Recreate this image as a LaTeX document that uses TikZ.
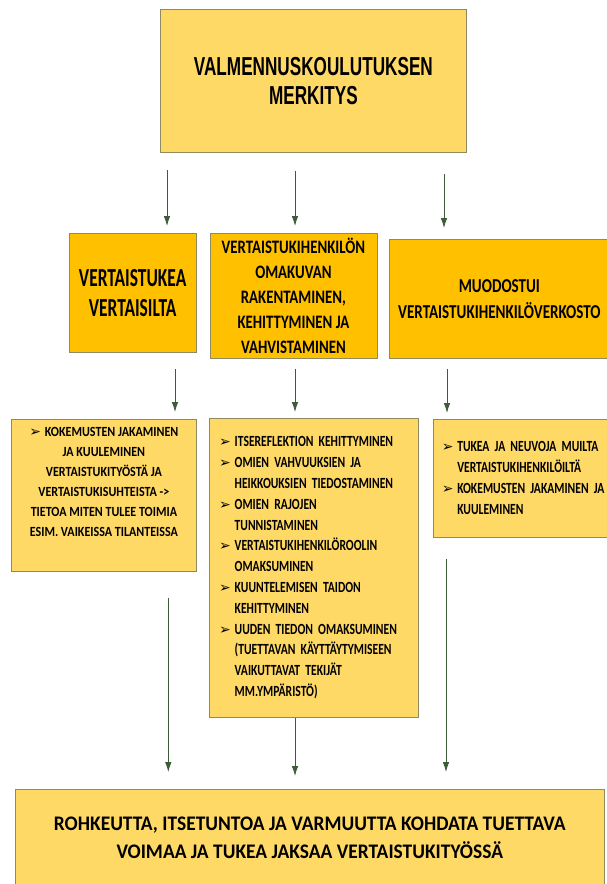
\documentclass[tikz,border=0pt]{standalone}
\usepackage{fontspec}
\setmainfont{Carlito}
\newfontfamily\titlefont{Liberation Sans}[FakeStretch=0.66]
\newfontfamily\symfont{DejaVu Sans}
\usetikzlibrary{arrows.meta}
\definecolor{lightgold}{HTML}{FFD966}
\definecolor{gold}{HTML}{FFC000}
\definecolor{boxline}{HTML}{8E8A62}
\definecolor{arrowgreen}{HTML}{3E5C3A}
% narrowed bold text: stretch, size, line skip
\newcommand{\nfont}[3]{\bfseries\addfontfeatures{FakeStretch=#1}\fontsize{#2}{#3}\selectfont}
\newcommand{\bul}{\makebox[15.5pt][l]{\symfont\fontsize{14}{14}\selectfont ➢}}
\newcommand{\cnt}{\hspace*{15.5pt}}

\begin{document}
\begin{tikzpicture}[x=1pt,y=-1pt,
  tbox/.style={draw=boxline,line width=0.8pt,inner sep=0pt,anchor=north west},
  arr/.style={draw=arrowgreen,line width=0.8pt,-{Latex[length=10pt,width=6.5pt]}}]
  \useasboundingbox (0,0) rectangle (607,884);

  % title
  \node[tbox,fill=lightgold,minimum width=306pt,minimum height=143pt,align=center,
        font=\titlefont\bfseries\fontsize{26}{28.5}\selectfont] (title) at (160,9)
        {VALMENNUSKOULUTUKSEN\\MERKITYS};

  % three themes
  \node[tbox,fill=gold,minimum width=127.5pt,minimum height=119.6pt,align=center,
        font=\nfont{0.67}{26}{30.3}] (tukea) at (68.5,232.7)
        {VERTAISTUKEA\\VERTAISILTA};
  \node[tbox,fill=gold,minimum width=167pt,minimum height=125pt,align=center,
        font=\nfont{0.78}{19}{25}] (omakuva) at (209.5,232.7)
        {VERTAISTUKIHENKILÖN\\OMAKUVAN\\RAKENTAMINEN,\\KEHITTYMINEN JA\\VAHVISTAMINEN};
  \node[tbox,fill=gold,minimum width=220pt,minimum height=119pt,align=center,
        font=\nfont{0.765}{19.7}{25.6}] (verkosto) at (389,239)
        {MUODOSTUI\\VERTAISTUKIHENKILÖVERKOSTO};

  % details
  \node[tbox,fill=lightgold,minimum width=185pt,align=center,inner ysep=7.5pt,
        text height=110pt,text depth=26.7pt,
        font=\nfont{0.86}{14}{20}] (kokemus) at (11,419)
        {\bul KOKEMUSTEN JAKAMINEN\\JA KUULEMINEN\\VERTAISTUKITYÖSTÄ JA\\
         VERTAISTUKISUHTEISTA ->\\TIETOA MITEN TULEE TOIMIA\\ESIM. VAIKEISSA TILANTEISSA};
  \node[tbox,fill=lightgold,minimum width=209pt,minimum height=298.7pt,text width=190pt,
        align=left,font=\nfont{0.75}{15.5}{20.8}] (omaksu) at (209.3,418)
        {\bul ITSEREFLEKTION KEHITTYMINEN\\
         \bul OMIEN VAHVUUKSIEN JA\\
         \cnt HEIKKOUKSIEN TIEDOSTAMINEN\\
         \bul OMIEN RAJOJEN\\
         \cnt TUNNISTAMINEN\\
         \bul VERTAISTUKIHENKILÖROOLIN\\
         \cnt OMAKSUMINEN\\
         \bul KUUNTELEMISEN TAIDON\\
         \cnt KEHITTYMINEN\\
         \bul UUDEN TIEDON OMAKSUMINEN\\
         \cnt (TUETTAVAN KÄYTTÄYTYMISEEN\\
         \cnt VAIKUTTAVAT TEKIJÄT\\
         \cnt MM.YMPÄRISTÖ)};
  \node[tbox,fill=lightgold,minimum width=187.3pt,minimum height=117.7pt,text width=170pt,
        align=left,font=\nfont{0.75}{15.5}{21}] (tuki) at (432.7,419)
        {\bul TUKEA JA NEUVOJA MUILTA\\
         \cnt VERTAISTUKIHENKILÖILTÄ\\
         \bul KOKEMUSTEN JAKAMINEN JA\\
         \cnt KUULEMINEN};

  % outcome
  \node[tbox,fill=lightgold,minimum width=589.3pt,minimum height=97pt,align=center,
        font=\nfont{0.94}{20.7}{28.3}] (rohkeus) at (14.7,789)
        {ROHKEUTTA, ITSETUNTOA JA VARMUUTTA KOHDATA TUETTAVA\\VOIMAA JA TUKEA JAKSAA VERTAISTUKITYÖSSÄ};

  % arrow columns
  \coordinate (c1) at (167,0);
  \coordinate (c2) at (295,0);
  \coordinate (c3) at (444,0);
  \coordinate (c4) at (175,0);
  \coordinate (c6) at (447,0);
  \coordinate (c7) at (168.3,0);
  \coordinate (c9) at (446,0);

  % title -> themes
  \draw[arr,shorten <=17pt,shorten >=6.7pt] (title.south -| c1) -- (tukea.north -| c1);
  \draw[arr,shorten <=18pt,shorten >=6.7pt] (title.south -| c2) -- (omakuva.north -| c2);
  \draw[arr,shorten <=21pt,shorten >=11pt] (title.south -| c3) -- (verkosto.north -| c3);

  % themes -> details
  \draw[arr,shorten <=16pt,shorten >=7pt] (tukea.south -| c4) -- (kokemus.north -| c4);
  \draw[arr,shorten <=10pt,shorten >=6pt] (omakuva.south -| c2) -- (omaksu.north -| c2);
  \draw[arr,shorten <=10pt,shorten >=6pt] (verkosto.south -| c6) -- (tuki.north -| c6);

  % details -> outcome
  \draw[arr,shorten <=26pt,shorten >=17pt] (kokemus.south -| c7) -- (rohkeus.north -| c7);
  \draw[arr,shorten >=13pt] (omaksu.south -| c2) -- (rohkeus.north -| c2);
  \draw[arr,shorten <=21pt,shorten >=17pt] (tuki.south -| c9) -- (rohkeus.north -| c9);
\end{tikzpicture}
\end{document}
